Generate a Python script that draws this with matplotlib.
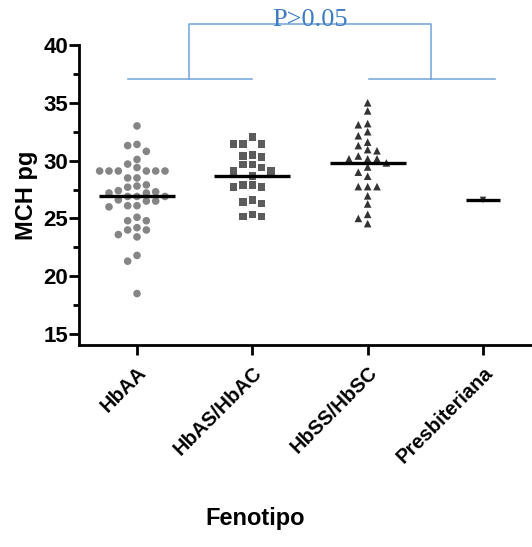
import numpy as np
import matplotlib
matplotlib.use("Agg")
import matplotlib.pyplot as plt
from matplotlib.ticker import MultipleLocator

plt.rcParams['font.family'] = ['Liberation Sans', 'DejaVu Sans']

# Datos (MCH en pg)
grupos = ["HbAA", "HbAS/HbAC", "HbSS/HbSC", "Presbiteriana"]
hbaa = [33.0, 31.4, 31.3, 30.8, 30.1, 29.7, 29.4, 29.1, 29.1, 29.1, 29.1, 29.1,
        29.1, 28.5, 28.5, 27.9, 27.8, 27.7, 27.4, 27.2, 27.2, 27.3, 26.9, 26.9,
        26.9, 26.6, 26.5, 26.5, 26.1, 26.1, 26.0, 25.1, 24.8, 24.8, 24.2, 24.0,
        24.0, 23.6, 23.4, 21.8, 21.3, 18.5]
hbas = [32.05, 31.45, 31.45, 31.45, 30.5, 30.4, 30.3, 29.65, 29.65, 29.4, 29.1,
        29.1, 28.65, 27.9, 27.9, 27.7, 27.7, 26.6, 26.4, 26.3, 25.35, 25.15, 25.15]
hbss = [35.0, 34.3, 33.2, 33.1, 32.5, 32.15, 31.6, 31.3, 30.95, 30.85, 30.4,
        30.15, 30.15, 30.15, 29.8, 29.45, 29.0, 28.65, 27.75, 27.75, 27.75, 26.95,
        26.25, 25.35, 25.0, 24.55]
presb = [26.6]
medianas = [26.9, 28.65, 29.8, 26.6]
ancho_mediana = [0.33, 0.33, 0.33, 0.15]
marcadores = ["o", "s", "^", "v"]
colores = ["#858585", "#5c5c5c", "#333333", "#333333"]


def enjambre(valores, paso=0.081, umbral=0.62):
    # coloca los puntos en columnas para que no se tapen
    orden = np.argsort(valores)[::-1]
    colocados = []
    desplaz = np.zeros(len(valores))
    for i in orden:
        v = valores[i]
        for k in [0, -1, 1, -2, 2, -3, 3, -4, 4]:
            libre = all(abs(v - w) >= umbral for (c, w) in colocados if c == k)
            if libre:
                colocados.append((k, v))
                desplaz[i] = k * paso
                break
    return desplaz


fig = plt.figure(figsize=(5.32, 5.47), dpi=100)
ax = fig.add_axes([79 / 532, 202 / 547, 1 - 79 / 532, 300 / 547])

datos = [hbaa, hbas, hbss, presb]
for i, vals in enumerate(datos):
    vals = np.array(vals)
    dx = enjambre(vals)
    ax.scatter(i + dx, vals, marker=marcadores[i], s=30 if i != 3 else 22,
               color=colores[i], edgecolors="none", zorder=2, clip_on=False)
    ax.plot([i - ancho_mediana[i], i + ancho_mediana[i]], [medianas[i]] * 2,
            color="black", lw=2.4, zorder=3, solid_capstyle="butt")

# corchete de comparacion
azul = "#6fa3d8"
kw = dict(color=azul, lw=1.1, clip_on=False)
ax.plot([-0.08, 1.0], [37.05, 37.05], **kw)
ax.plot([2.01, 3.1], [37.05, 37.05], **kw)
ax.plot([0.45, 0.45, 2.55, 2.55], [37.05, 41.82, 41.82, 37.05], **kw)
ax.text(1.5, 41.64, "P>0.05", color="#3d7cc4", fontsize=19, ha="center",
        va="baseline", family=["Liberation Serif", "DejaVu Serif"])

ax.set_xlim(-0.503, 3.425)
ax.set_ylim(14.05, 40)
ax.yaxis.set_major_locator(MultipleLocator(5))
ax.yaxis.set_minor_locator(MultipleLocator(2.5))
ax.set_xticks(range(4))
ax.set_xticklabels(grupos, rotation=45, ha="right", va="top",
                   rotation_mode="anchor", fontsize=14.5, fontweight="bold")
for t in ax.get_yticklabels():
    t.set_fontweight("bold")
ax.tick_params(axis="y", labelsize=16, width=2, length=7, pad=1)
ax.tick_params(axis="y", which="minor", width=2, length=4)
ax.tick_params(axis="x", width=2, length=7, pad=6)

for s in ["top", "right"]:
    ax.spines[s].set_visible(False)
for s in ["left", "bottom"]:
    ax.spines[s].set_linewidth(2)

ax.set_ylabel("MCH pg", fontsize=17, fontweight="bold", labelpad=4)
fig.text(255 / 532, 1 - 518 / 547, "Fenotipo", fontsize=17, fontweight="bold",
         ha="center", va="center")

fig.savefig("out.png", dpi=100)
